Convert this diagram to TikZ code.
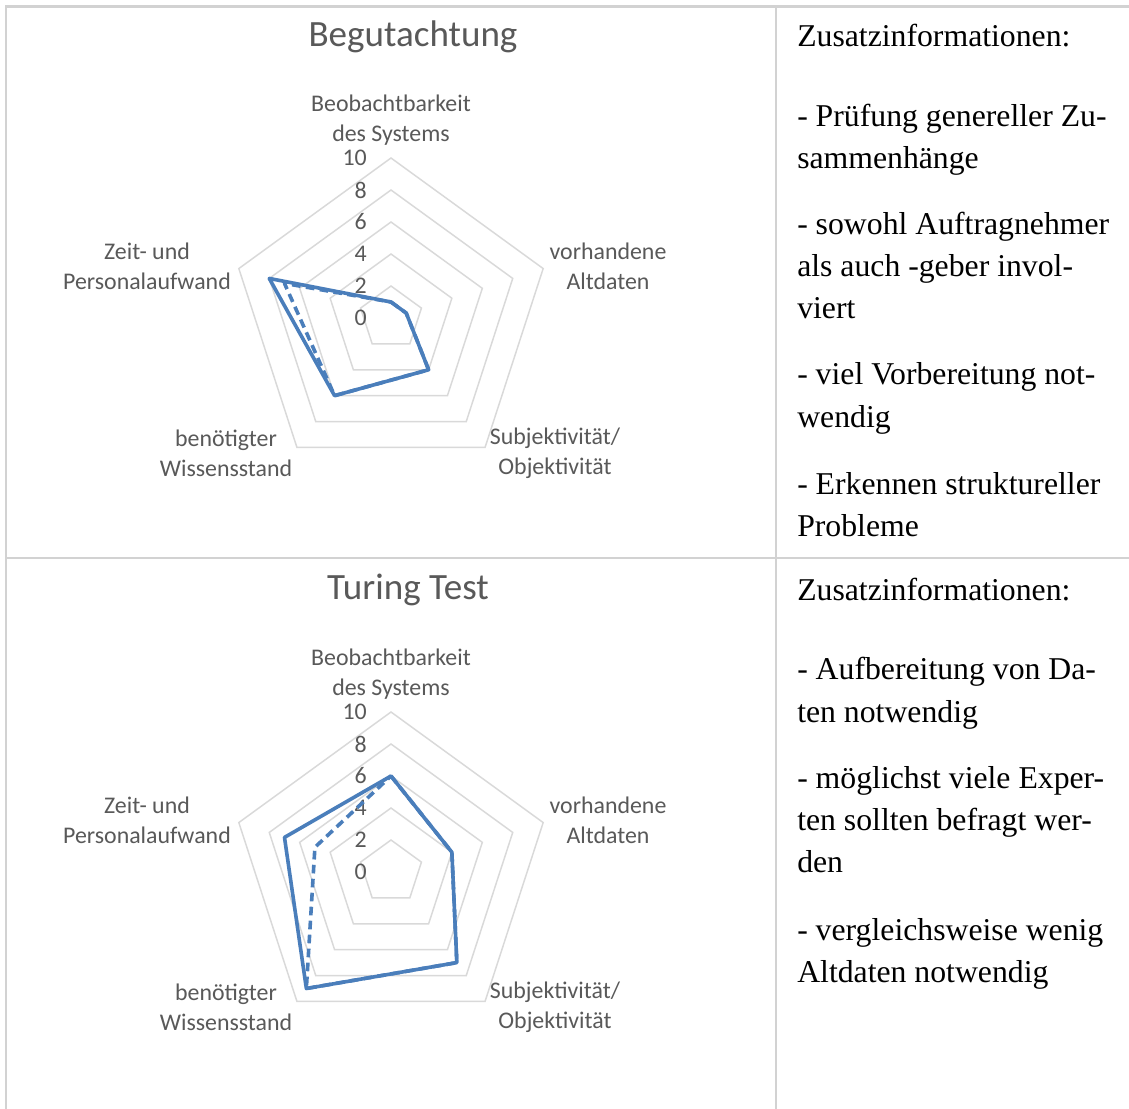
\documentclass[tikz,border=0pt]{standalone}
\usepackage{fontspec}
\setmainfont{Liberation Serif}
\newfontfamily\chartfont{Carlito}
\definecolor{txtgray}{HTML}{595959}
\definecolor{gridgray}{HTML}{D9D9D9}
\definecolor{rulegray}{HTML}{D2D2D2}
\definecolor{seriesblue}{HTML}{4A7EBB}
\tikzset{
  rule/.style={draw=rulegray, line width=1.6pt},
  gridring/.style={draw=gridgray, line width=1.1pt, line join=miter},
  seriesline/.style={draw=seriesblue, line width=2.7pt, line join=round},
  seriesdash/.style={seriesline, dash pattern=on 6.5pt off 4pt},
  charttitle/.style={inner sep=0, text=txtgray, font=\chartfont\fontsize{27.8}{33}\selectfont},
  axislabel/.style={inner sep=0, align=center, text=txtgray, font=\chartfont\fontsize{17.9}{22.5}\selectfont},
  ticklabel/.style={inner sep=0, anchor=east, text=txtgray, font=\chartfont\fontsize{17.9}{22.5}\selectfont},
  infotext/.style={inner sep=0, anchor=base west, font=\fontsize{23.8}{31.5}\selectfont},
}
% radar chart: pentagon grid, axis labels and tick labels around a centre
% #1 = centre y (px from top), #2 = the series drawn in the chart's frame
\newcommand{\radarchart}[2]{%
  \begin{scope}[shift={(391,-#1)}]
    \foreach \r in {2,4,6,8,10}
      \draw[gridring] (90:\r*16) -- (18:\r*16) -- (-54:\r*16) -- (-126:\r*16) -- (162:\r*16) -- cycle;
    \foreach \v in {0,2,4,6,8,10}
      \node[ticklabel] at (-24,\v*16) {\v};
    \node[axislabel] (beob#1) at (0,197.5) {Beobachtbarkeit\\des Systems};
    \node[axislabel] (alt#1) at (217,51.5) {vorhandene\\Altdaten};
    \node[axislabel] (subj#1) at (164,-135) {Subjektivität/\\Objektivität};
    \node[axislabel] (wiss#1) at (-165,-135) {benötigter\\Wissensstand};
    \node[axislabel] (zeit#1) at (-244,51.5) {Zeit- und\\Personalaufwand};
    #2
  \end{scope}}
\begin{document}
\begin{tikzpicture}[x=0.75pt,y=0.75pt]
  \useasboundingbox[fill=white] (0,0) rectangle (1129,-1109);
  % table rules
  \draw[rule] (5,-6.5) -- (1129,-6.5);
  \draw[rule] (5,-558) -- (1129,-558);
  \draw[rule] (6,-6.5) -- (6,-1109);
  \draw[rule] (776,-6.5) -- (776,-1109);

  % first row: chart
  \node[charttitle] (t1) at (413,-37) {Begutachtung};
  \radarchart{318}{%
    \draw[seriesline] (90:1*16) -- (18:1*16) -- (-54:4*16) -- (-126:6*16) -- (162:8*16) -- cycle;
    \draw[seriesdash] (90:1*16) -- (18:1*16) -- (-54:4*16) -- (-126:6*16) -- (162:7*16) -- cycle;
  }

  % first row: notes
  \node[infotext] (a0) at (797,-47) {Zusatzinformationen:};
  \node[infotext] (a1) at (797,-127) {- Prüfung genereller Zu-};
  \node[infotext] (a2) at (797,-169) {sammenhänge};
  \node[infotext] (a3) at (797,-235) {- sowohl Auftragnehmer};
  \node[infotext] (a4) at (797,-277) {als auch -geber invol-};
  \node[infotext] (a5) at (797,-319) {viert};
  \node[infotext] (a6) at (797,-385) {- viel Vorbereitung not-};
  \node[infotext] (a7) at (797,-427) {wendig};
  \node[infotext] (a8) at (797,-494) {- Erkennen struktureller};
  \node[infotext] (a9) at (797,-536) {Probleme};

  % second row: chart
  \node[charttitle] (t2) at (408,-590) {Turing Test};
  \radarchart{872}{%
    \draw[seriesline] (90:6*16) -- (18:4*16) -- (-54:7*16) -- (-126:9*16) -- (162:7*16) -- cycle;
    \draw[seriesdash] (90:6*16) -- (18:4*16) -- (-54:7*16) -- (-126:9*16) -- (162:5*16) -- cycle;
  }

  % second row: notes
  \node[infotext] (b0) at (797,-600) {Zusatzinformationen:};
  \node[infotext] (b1) at (797,-679) {- Aufbereitung von Da-};
  \node[infotext] (b2) at (797,-722) {ten notwendig};
  \node[infotext] (b3) at (797,-788) {- möglichst viele Exper-};
  \node[infotext] (b4) at (797,-830) {ten sollten befragt wer-};
  \node[infotext] (b5) at (797,-872) {den};
  \node[infotext] (b6) at (797,-940) {- vergleichsweise wenig};
  \node[infotext] (b7) at (797,-982) {Altdaten notwendig};
\end{tikzpicture}
\end{document}
